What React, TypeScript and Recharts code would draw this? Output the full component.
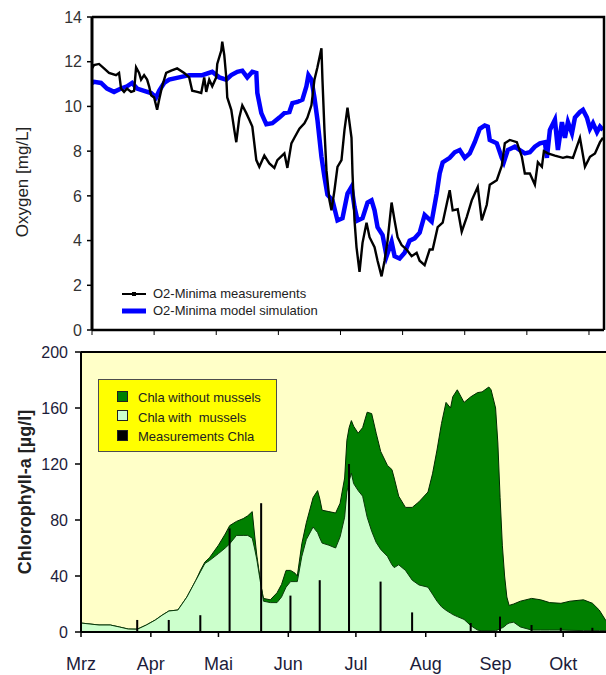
import React from 'react';
import {
  LineChart, Line, XAxis, YAxis, Legend, ComposedChart, Area, Bar, CartesianGrid,
} from 'recharts';

// --- Oxygen panel (x = days from first tick, one tick every 31 days) ---
const o2MeasDays = [
  0, 1, 3.5, 6, 8.5, 12, 13.5, 14.5, 16, 17.5,
  19.5, 21, 22, 23.5, 24.5, 26, 27.5, 28.5, 29.5, 31,
  32.5, 33.5, 35, 37, 39.5, 42.5, 46, 48.5, 50, 52.5,
  54.5, 56, 57, 58.5, 60, 62, 62.5, 64.5, 65, 66,
  67, 67.5, 69.5, 71, 72, 73.5, 75, 77, 78.5, 80,
  82, 83.5, 86, 88.5, 91, 92.5, 96, 97.5, 99.5, 101,
  103.5, 106, 107.5, 109.5, 111, 112.5, 114.5, 115, 116, 117,
  118.5, 119.5, 121, 122.5, 124.5, 126, 127.5, 129.5, 130, 131,
  132, 133.5, 135, 137, 138.5, 141, 142.5, 144.5, 146, 147.5,
  149.5, 151, 152.5, 154.5, 157, 159.5, 162, 163.5, 166, 168.5,
  170, 172.5, 175, 178.5, 180, 182.5, 184.5, 187, 189.5, 192.5,
  194.5, 197, 198.5, 202, 204.5, 206, 208.5, 212, 214.5, 216,
  218.5, 221, 222.5, 224.5, 225.5, 227.5, 231, 235, 237, 240,
  243.5, 246, 248.5, 251, 253.5, 255,
];
const o2MeasValues = [
  11.7, 11.85, 11.9, 11.7, 11.5, 11.4, 11.5, 10.8, 10.65, 10.8,
  10.65, 10.7, 11.75, 11.5, 11.2, 11.4, 11.2, 10.9, 10.5, 10.4,
  9.85, 10.3, 10.9, 11.5, 11.6, 11.7, 11.5, 11.3, 10.7, 10.65,
  10.6, 11.3, 10.65, 11.2, 10.9, 11.3, 11.9, 12.5, 12.9, 12.3,
  11.3, 10.4, 9.85, 8.95, 8.4, 9.5, 10.05, 9.7, 9.4, 9.1,
  7.6, 7.3, 7.8, 7.45, 7.25, 7.6, 7.9, 7.25, 8.35, 8.6,
  9.0, 9.25, 9.5, 10.05, 11.2, 11.75, 12.6, 11.2, 8.95, 7.15,
  5.8, 5.35, 6.25, 7.3, 7.6, 8.95, 9.95, 8.6, 7.0, 4.9,
  3.7, 2.6, 3.9, 4.8, 4.15, 3.7, 3.1, 2.4, 3.1, 4.0,
  5.7, 4.9, 4.15, 3.8, 3.6, 3.3, 3.45, 3.1, 2.9, 3.6,
  3.6, 4.6, 4.8, 6.25, 5.35, 5.4, 4.4, 5.05, 5.8, 6.4,
  4.9, 5.6, 6.5, 6.7, 7.35, 8.35, 8.5, 8.4, 7.75, 7.0,
  7.0, 6.5, 7.5, 7.3, 8.0, 7.9, 7.8, 7.7, 7.75, 7.7,
  8.6, 7.3, 7.75, 7.9, 8.4, 8.6,
];

const o2SimDays = [
  0, 1, 4.5, 7.5, 11, 14.5, 17.5, 20, 22.5, 26,
  29.5, 32, 33.5, 36, 38.5, 43.5, 48.5, 55, 60, 63.5,
  67, 69.5, 72.5, 75, 77.5, 80, 82, 82.5, 84.5, 87,
  90, 93.5, 96, 98.5, 100, 102.5, 105, 107, 108, 109.5,
  111, 112.5, 114.5, 116, 117.5, 120, 122.5, 125, 127.5, 129.5,
  131, 132.5, 135, 137.5, 139.5, 141, 142.5, 145, 147, 149.5,
  151, 153.5, 156, 158.5, 161, 163.5, 166, 169.5, 172, 173.5,
  175, 178.5, 181, 183.5, 186, 188.5, 191, 193.5, 196, 197.5,
  198.5, 202, 204.5, 205.5, 207.5, 211, 213.5, 216, 218.5, 221,
  223.5, 226, 227, 228.5, 231, 232.5, 234.5, 236, 237.5, 239.5,
  241, 243.5, 245, 247, 248.5, 250, 252, 253.5, 255,
];
const o2SimValues = [
  11.05, 11.1, 11.05, 10.8, 10.65, 10.8, 10.9, 11.05, 10.8, 10.7,
  10.6, 10.4, 10.7, 11.05, 11.2, 11.3, 11.4, 11.4, 11.55, 11.3,
  11.2, 11.4, 11.55, 11.6, 11.3, 11.55, 11.5, 10.6, 9.7, 9.2,
  9.25, 9.5, 9.7, 9.75, 10.15, 10.2, 10.3, 10.9, 11.4, 11.2,
  10.4, 9.4, 7.75, 6.85, 6.05, 5.8, 4.9, 5.0, 6.1, 6.4,
  5.5, 4.9, 5.0, 5.7, 5.8, 5.35, 4.6, 4.25, 3.3, 3.95,
  3.3, 3.2, 3.45, 4.0, 4.1, 4.35, 5.15, 4.85, 6.1, 7.0,
  7.5, 7.7, 7.95, 8.05, 7.7, 7.9, 8.4, 9.0, 9.15, 9.1,
  8.5, 8.35, 7.7, 7.5, 8.05, 8.2, 8.05, 7.9, 7.95, 8.2,
  8.35, 8.4, 7.7, 8.95, 9.4, 8.05, 9.3, 8.6, 9.3, 8.8,
  9.5, 9.75, 9.85, 9.5, 9.0, 9.25, 8.85, 9.1, 8.95,
];

const o2XTicks = [0, 31, 62, 93, 124, 155, 186, 217, 248];
const o2YTicks = [0, 2, 4, 6, 8, 10, 12, 14];

// --- Chlorophyll panel (x = days since 1 March) ---
const chlaDays = [
  0, 8, 13, 17, 21, 25, 29, 33, 36, 39,
  43, 47, 51, 53, 55, 57, 61, 64, 66, 69,
  72, 74, 76, 77, 78, 80, 81, 84, 87, 89,
  91, 93, 95, 96, 98, 100, 103, 105, 106, 107,
  110, 113, 115, 117, 118, 119, 120, 121, 123, 125,
  127, 129, 131, 133, 136, 138, 139, 141, 144, 147,
  150, 154, 156, 158, 160, 162, 164, 165, 167, 170,
  173, 176, 178, 181, 182, 184, 185, 186, 187, 188,
  189, 190, 192, 195, 200, 204, 208, 213, 217, 223,
  227, 230, 233,
];
const chlaWithout = [
  6.4, 5, 5, 3.6, 2.1, 2, 5, 8.6, 12, 15,
  15.7, 25, 37, 44, 50, 53, 62, 70, 76, 79,
  81, 83, 86, 70, 55, 32, 24, 23, 28, 34,
  44, 44, 42, 40, 63, 78, 96, 101, 95, 87,
  86, 85, 92, 110, 137, 146, 151, 147, 142, 146,
  157, 156, 142, 129, 119, 116, 110, 97, 89, 89,
  93, 100, 113, 130, 149, 164, 160, 168, 173, 164,
  168, 171, 171.5, 175, 173, 160, 135, 96, 62, 40,
  25, 19, 20, 22, 24, 23, 21, 20.5, 22, 23,
  20.5, 15.7, 8,
];
const chlaWith = [
  6.4, 5, 5, 3.6, 2.1, 2, 5, 8.6, 12, 15,
  15.7, 25, 37, 43, 49, 51, 56, 60, 63, 69,
  69, 69, 67, 60, 52, 32, 22, 21, 21, 25,
  32, 36, 36, 36, 54, 66, 75, 71, 67, 63.5,
  62, 60, 68, 82, 100, 108, 113.5, 106, 101, 97,
  82, 72, 64, 59, 54, 48, 46, 48, 44, 37,
  33.6, 32, 27, 22, 18, 15.5, 13.5, 12.5, 11, 9,
  4.5, 1.4, 0.8, 0.8, 0.8, 1, 1.5, 2.5, 3, 4,
  5.5, 6.4, 7, 3.6, 1.4, 1.4, 1.4, 1.4, 1.2, 1,
  1, 1, 1,
];
const chlaMeasDays = [25, 39, 53, 66, 80, 93, 106, 119, 133, 147, 173, 186, 200, 213, 227];
const chlaMeasValues = [8.6, 8.6, 12, 74, 92, 26, 37, 120, 36, 14, 6.4, 11, 5, 3, 3];

const monthTicks = [0, 31, 61, 92, 122, 153, 184, 214];
const monthLabels = ['Mrz', 'Apr', 'Mai', 'Jun', 'Jul', 'Aug', 'Sep', 'Okt'];
const chlaYTicks = [0, 40, 80, 120, 160, 200];

const o2Meas = o2MeasDays.map((day, i) => ({ day, o2: o2MeasValues[i] }));
const o2Sim = o2SimDays.map((day, i) => ({ day, o2: o2SimValues[i] }));

const chlaData = chlaDays.map((day, i) => {
  const m = chlaMeasDays.indexOf(day);
  return {
    day,
    without: chlaWithout[i],
    with: chlaWith[i],
    meas: m >= 0 ? chlaMeasValues[m] : undefined,
  };
});

const FONT = '"Liberation Sans", Arial, sans-serif';
const CHART_W = 606;

// Y-axis title; also draws the plot frame edges (top / right) from the axis viewBox
// eslint-disable-next-line @typescript-eslint/no-explicit-any
function AxisTitle({ cx, cy, text, size, weight, viewBox, rightGap, frameRight, frameWidth }: any) {
  const vb = viewBox || { x: 0, y: 0, width: 0, height: 0 };
  const left = vb.x + vb.width;
  const top = vb.y;
  const right = CHART_W - rightGap;
  const bottom = vb.y + vb.height;
  const d = frameRight
    ? `M${left},${top} L${right},${top} L${right},${bottom}`
    : `M${left},${top} L${right},${top}`;
  return (
    <g>
      <path d={d} fill="none" stroke="#000" strokeWidth={frameWidth} />
      <text
        x={cx}
        y={cy}
        transform={`rotate(-90 ${cx} ${cy})`}
        textAnchor="middle"
        dominantBaseline="central"
        fontSize={size}
        fontWeight={weight}
        fill="#222"
        fontFamily={FONT}
      >
        {text}
      </text>
    </g>
  );
}

function O2Legend() {
  return (
    <div style={{ fontSize: 13, color: '#222', fontFamily: FONT }}>
      <div style={{ display: 'flex', alignItems: 'center', height: 17 }}>
        <svg width={24} height={10} style={{ marginRight: 7 }}>
          <line x1={0} y1={5} x2={24} y2={5} stroke="#000" strokeWidth={2} />
          <rect x={10} y={3} width={4} height={4} fill="#000" />
        </svg>
        <span>O2-Minima measurements</span>
      </div>
      <div style={{ display: 'flex', alignItems: 'center', height: 17 }}>
        <svg width={24} height={10} style={{ marginRight: 7 }}>
          <line x1={0} y1={5} x2={24} y2={5} stroke="#0000ff" strokeWidth={5} />
        </svg>
        <span>O2-Minima model simulation</span>
      </div>
    </div>
  );
}

function ChlaLegend() {
  const rows = [
    { label: 'Chla without mussels', fill: '#008000' },
    { label: 'Chla with  mussels', fill: '#ccffcc' },
    { label: 'Measurements Chla', fill: '#000000' },
  ];
  return (
    <div style={{
      width: 179, height: 73, boxSizing: 'border-box',
      background: '#ffff00', border: '1px solid #4d4d4d',
      padding: '8px 0 0 18px', fontSize: 13, color: '#222', fontFamily: FONT,
    }}>
      {rows.map((r) => (
        <div key={r.label} style={{ display: 'flex', alignItems: 'center', height: 19.5 }}>
          <span style={{
            display: 'inline-block', width: 9, height: 9, background: r.fill,
            border: '1px solid #222', marginRight: 10, marginTop: -3,
          }} />
          <span style={{ whiteSpace: 'pre' }}>{r.label}</span>
        </div>
      ))}
    </div>
  );
}

export default function App() {
  return (
    <div style={{
      position: 'absolute', left: 0, top: 0, width: 606, height: 675,
      background: '#fff', fontFamily: FONT,
    }}>
      <LineChart width={CHART_W} height={340} margin={{ top: 17, right: 2, bottom: 0, left: 0 }}>
        <XAxis
          dataKey="day"
          type="number"
          domain={[0, 255.5]}
          ticks={o2XTicks}
          tickFormatter={() => ''}
          tickSize={5}
          height={10}
          axisLine={{ stroke: '#000', strokeWidth: 2.5 }}
          tickLine={{ stroke: '#000', strokeWidth: 1 }}
        />
        <YAxis
          domain={[0, 14]}
          ticks={o2YTicks}
          width={92}
          tickSize={5}
          tickMargin={5}
          tick={{ fontSize: 16, fill: '#333' }}
          axisLine={{ stroke: '#000', strokeWidth: 3 }}
          tickLine={{ stroke: '#000', strokeWidth: 1.5 }}
          label={
            <AxisTitle
              cx={22} cy={182} text="Oxygen [mg/L]" size={17} weight={400}
              rightGap={2} frameRight frameWidth={2.5}
            />
          }
        />
        <Line
          data={o2Sim}
          dataKey="o2"
          type="linear"
          stroke="#0000ff"
          strokeWidth={4.5}
          dot={false}
          isAnimationActive={false}
        />
        <Line
          data={o2Meas}
          dataKey="o2"
          type="linear"
          stroke="#000"
          strokeWidth={2.4}
          dot={false}
          isAnimationActive={false}
        />
        <Legend
          layout="vertical"
          align="center"
          verticalAlign="middle"
          content={() => <O2Legend />}
          wrapperStyle={{ left: 122, top: 285, width: 230, height: 34 }}
        />
      </LineChart>

      <ComposedChart width={CHART_W} height={335} data={chlaData} margin={{ top: 12, right: 0, bottom: 0, left: 0 }}>
        <CartesianGrid fill="#ffffc8" stroke="none" horizontal={false} vertical={false} />
        <XAxis
          dataKey="day"
          type="number"
          domain={[0, 233]}
          ticks={monthTicks}
          tickFormatter={(v: number) => monthLabels[monthTicks.indexOf(v)]}
          height={43}
          tickSize={5}
          tickMargin={20}
          tick={{ fontSize: 18, fill: '#1c1c3a' }}
          axisLine={{ stroke: '#000', strokeWidth: 2 }}
          tickLine={{ stroke: '#000', strokeWidth: 1.5 }}
        />
        <Area
          dataKey="without"
          type="linear"
          fill="#008000"
          fillOpacity={1}
          stroke="#002a00"
          strokeWidth={1}
          connectNulls
          isAnimationActive={false}
        />
        <Area
          dataKey="with"
          type="linear"
          fill="#ccffcc"
          fillOpacity={1}
          stroke="#0a3a0a"
          strokeWidth={1}
          connectNulls
          isAnimationActive={false}
        />
        <Bar dataKey="meas" fill="#000" barSize={3} isAnimationActive={false} />
        <YAxis
          domain={[0, 200]}
          ticks={chlaYTicks}
          width={81}
          tickSize={6}
          tickMargin={7}
          tick={{ fontSize: 16, fill: '#1c1c3a' }}
          axisLine={{ stroke: '#000', strokeWidth: 2 }}
          tickLine={{ stroke: '#000', strokeWidth: 1.5 }}
          label={
            <AxisTitle
              cx={25} cy={152} text="Chlorophyll-a [µg/l]" size={18} weight={700}
              rightGap={0} frameRight={false} frameWidth={2}
            />
          }
        />
        <Legend
          layout="vertical"
          align="center"
          verticalAlign="middle"
          content={() => <ChlaLegend />}
          wrapperStyle={{ left: 98, top: 39, width: 179, height: 73 }}
        />
      </ComposedChart>
    </div>
  );
}
